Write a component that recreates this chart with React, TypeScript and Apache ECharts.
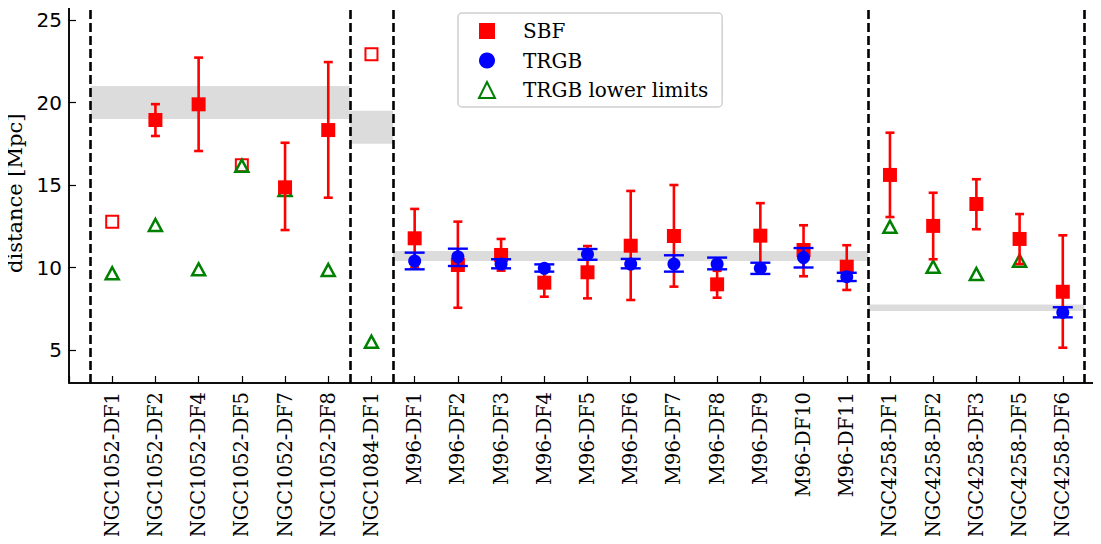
import React, { useEffect, useRef } from "react";
import * as echarts from "echarts";

const categories = [
  "NGC1052-DF1", "NGC1052-DF2", "NGC1052-DF4", "NGC1052-DF5", "NGC1052-DF7", "NGC1052-DF8",
  "NGC1084-DF1",
  "M96-DF1", "M96-DF2", "M96-DF3", "M96-DF4", "M96-DF5", "M96-DF6", "M96-DF7", "M96-DF8", "M96-DF9", "M96-DF10", "M96-DF11",
  "NGC4258-DF1", "NGC4258-DF2", "NGC4258-DF3", "NGC4258-DF5", "NGC4258-DF6",
];

// SBF distances (filled squares) with error-bar ends
const sbfValue = [null, 18.94, 19.89, null, 14.86, 18.33, null, 11.77, 10.15, 10.76, 9.08, 9.71, 11.32, 11.91, 8.98, 11.93, 11.06, 10.05, 15.61, 12.52, 13.85, 11.73, 8.53];
const sbfLow = [null, 17.97, 17.06, null, 12.27, 14.23, null, 10.0, 7.56, 9.81, 8.23, 8.13, 8.03, 8.84, 8.17, 9.8, 9.47, 8.64, 13.06, 10.5, 12.32, 10.21, 5.14];
const sbfHigh = [null, 19.9, 22.72, null, 17.56, 22.45, null, 13.55, 12.78, 11.73, 9.95, 11.3, 14.64, 15.0, 9.8, 13.9, 12.56, 11.35, 18.17, 14.53, 15.35, 13.24, 11.95];

// SBF distances without error (open squares)
const sbfOpenValue = [12.78, null, null, 16.2, null, null, 22.92, null, null, null, null, null, null, null, null, null, null, null, null, null, null, null, null];

// TRGB distances with error-bar ends
const trgbValue = [null, null, null, null, null, null, null, 10.39, 10.65, 10.21, 9.95, 10.8, 10.21, 10.21, 10.21, 9.95, 10.6, 9.44, null, null, null, null, 7.28];
const trgbLow = [null, null, null, null, null, null, null, 9.89, 10.09, 9.95, 9.75, 10.47, 9.95, 9.75, 9.89, 9.61, 10.0, 9.18, null, null, null, null, 6.98];
const trgbHigh = [null, null, null, null, null, null, null, 10.9, 11.14, 10.5, 10.19, 11.12, 10.52, 10.74, 10.6, 10.29, 11.18, 9.68, null, null, null, null, 7.59];

// TRGB lower limits (open triangles)
const trgbLimit = [9.65, 12.58, 9.89, 16.17, 14.7, 9.85, 5.5, null, null, null, null, null, null, null, null, null, null, null, 12.47, 10.05, 9.61, 10.41, null];

// Group host distance bands
const bandStart = [-0.5, 5.5, 6.5, 17.5];
const bandEnd = [5.5, 6.5, 17.5, 22.5];
const bandLow = [19.0, 17.5, 10.4, 7.36];
const bandHigh = [21.0, 19.5, 11.0, 7.76];

// Group separators
const separators = [-0.5, 5.5, 6.5, 17.5, 22.5];

const yTicks = [5, 10, 15, 20, 25];

const SERIF = "'DejaVu Serif', serif";
const SANS = "'DejaVu Sans', sans-serif";

function points(vals: (number | null)[]) {
  const out: number[][] = [];
  vals.forEach((v, i) => {
    if (v != null) out.push([i, v]);
  });
  return out;
}

function errData(vals: (number | null)[], lo: (number | null)[], hi: (number | null)[]) {
  const out: number[][] = [];
  vals.forEach((v, i) => {
    if (v != null && lo[i] != null && hi[i] != null) out.push([i, lo[i] as number, hi[i] as number]);
  });
  return out;
}

function errRender(color: string, capHalf: number, width: number) {
  return (params: any, api: any) => {
    const x = api.value(0);
    const p1 = api.coord([x, api.value(1)]);
    const p2 = api.coord([x, api.value(2)]);
    const style = { stroke: color, lineWidth: width };
    return {
      type: "group",
      children: [
        { type: "line", shape: { x1: p1[0], y1: p1[1], x2: p2[0], y2: p2[1] }, style },
        { type: "line", shape: { x1: p1[0] - capHalf, y1: p1[1], x2: p1[0] + capHalf, y2: p1[1] }, style },
        { type: "line", shape: { x1: p2[0] - capHalf, y1: p2[1], x2: p2[0] + capHalf, y2: p2[1] }, style },
      ],
    };
  };
}

export default function App() {
  const ref = useRef<HTMLDivElement>(null);
  useEffect(() => {
    if (!ref.current) return;
    const chart = echarts.init(ref.current, null, { renderer: "svg" });
    const option: any = {
      animation: false,
      backgroundColor: "#ffffff",
      grid: {
        left: 69,
        top: 3.5,
        width: 1037,
        height: 379.5,
        show: true,
        borderColor: "#000",
        borderWidth: 1.5,
        outerBoundsMode: "none",
        containLabel: false,
      },
      legend: {
        orient: "vertical",
        left: 458,
        top: 13,
        data: ["SBF", "TRGB", "TRGB lower limits"],
        itemWidth: 16,
        itemHeight: 16,
        itemGap: 9.5,
        padding: [8, 14, 7, 20],
        backgroundColor: "rgba(255,255,255,0.85)",
        borderColor: "#d0d0d0",
        borderWidth: 1.5,
        borderRadius: 4,
        selectedMode: false,
        textStyle: { fontFamily: SERIF, fontSize: 20, color: "#000", lineHeight: 20, padding: [0, 0, 0, 23] },
      },
      xAxis: {
        type: "value",
        min: -1,
        max: 23,
        interval: 1,
        splitLine: { show: false },
        axisLine: { show: true, onZero: false, lineStyle: { color: "#000", width: 1.5 } },
        axisTick: { show: true, inside: true, length: 7, lineStyle: { color: "#000", width: 1.2 } },
        axisLabel: {
          rotate: 90,
          margin: 9,
          fontFamily: SERIF,
          fontSize: 19.5,
          color: "#000",
          formatter: (v: number) => categories[v] ?? "",
        },
      },
      yAxis: {
        type: "value",
        min: 3,
        max: 26,
        name: "distance [Mpc]",
        nameLocation: "middle",
        nameGap: 41,
        nameTextStyle: { fontFamily: SERIF, fontSize: 21, color: "#000" },
        splitLine: { show: false },
        axisLine: { show: true, onZero: false, lineStyle: { color: "#000", width: 1.5 } },
        axisTick: { show: true, inside: true, length: 7, customValues: yTicks, lineStyle: { color: "#000", width: 1.2 } },
        axisLabel: {
          customValues: yTicks,
          margin: 7,
          fontFamily: SANS,
          fontSize: 20,
          color: "#000",
        },
      },
      series: [
        {
          name: "bands",
          type: "scatter",
          data: [],
          silent: true,
          z: 1,
          markArea: {
            silent: true,
            itemStyle: { color: "#dcdcdc", opacity: 1 },
            data: bandStart.map((s, i) => [
              { xAxis: s, yAxis: bandLow[i] },
              { xAxis: bandEnd[i], yAxis: bandHigh[i] },
            ]),
          },
        },
        {
          name: "separators",
          type: "scatter",
          data: [],
          silent: true,
          z: 9,
          markLine: {
            silent: true,
            symbol: "none",
            label: { show: false },
            lineStyle: { color: "#000", width: 2.6, type: [9, 4], opacity: 1 },
            data: separators.map((x) => ({ xAxis: x })),
          },
        },
        {
          name: "SBF open",
          type: "scatter",
          symbol: "rect",
          symbolSize: 12,
          z: 2,
          itemStyle: { color: "transparent", borderColor: "#ff0000", borderWidth: 2, opacity: 1 },
          data: points(sbfOpenValue),
        },
        {
          name: "TRGB lower limits",
          type: "scatter",
          symbol: "triangle",
          symbolSize: [13, 12],
          z: 3,
          itemStyle: { color: "transparent", borderColor: "#008000", borderWidth: 2.5, opacity: 1 },
          data: points(trgbLimit),
        },
        {
          name: "SBF err",
          type: "custom",
          z: 4,
          renderItem: errRender("#ff0000", 4.5, 2.6),
          data: errData(sbfValue, sbfLow, sbfHigh),
        },
        {
          name: "SBF",
          type: "scatter",
          symbol: "rect",
          symbolSize: 14,
          z: 5,
          itemStyle: { color: "#ff0000", opacity: 1 },
          data: points(sbfValue),
        },
        {
          name: "TRGB err",
          type: "custom",
          z: 6,
          renderItem: errRender("#0000ff", 10, 2.4),
          data: errData(trgbValue, trgbLow, trgbHigh),
        },
        {
          name: "TRGB",
          type: "scatter",
          symbol: "circle",
          symbolSize: 13,
          z: 7,
          itemStyle: { color: "#0000ff", opacity: 1 },
          data: points(trgbValue),
        },
      ],
    };
    chart.setOption(option);
    return () => chart.dispose();
  }, []);
  return <div ref={ref} style={{ width: 1101, height: 544, margin: -8 }} />;
}
